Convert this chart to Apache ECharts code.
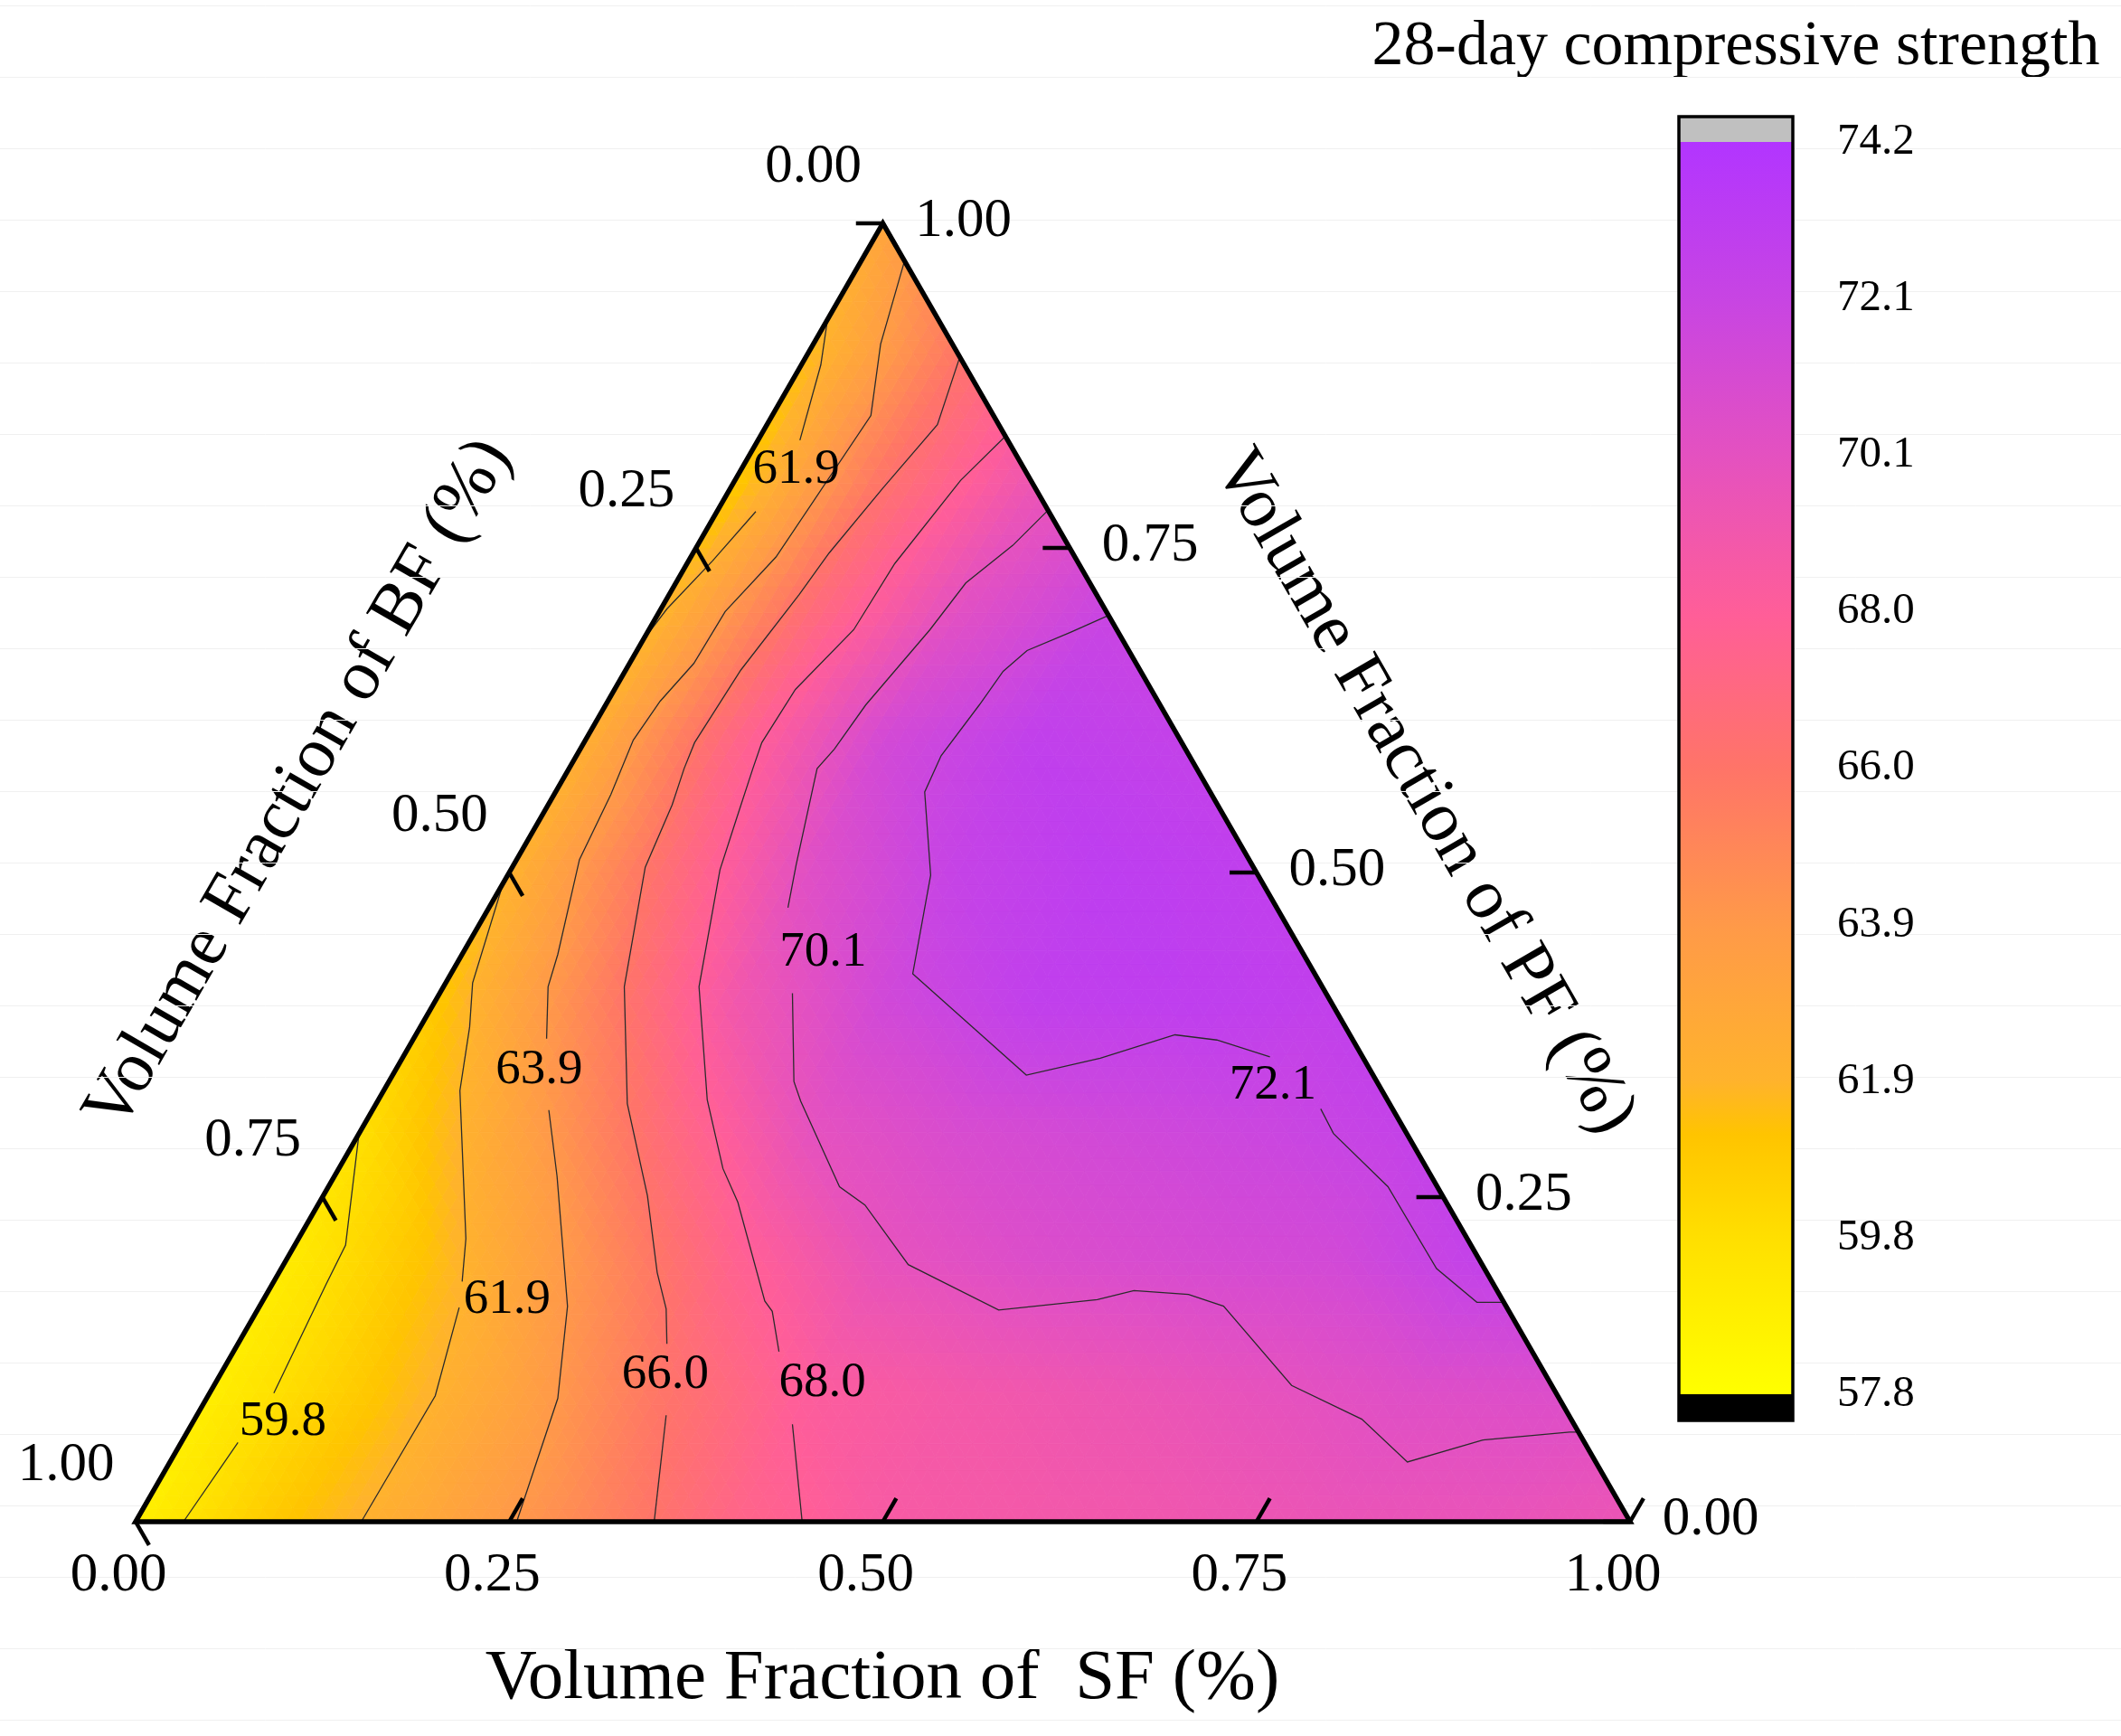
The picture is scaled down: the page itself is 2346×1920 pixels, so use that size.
<!DOCTYPE html>
<html>
<head>
<meta charset="utf-8">
<script src="https://cdn.jsdelivr.net/npm/echarts@6/dist/echarts.min.js"></script>
<style>
  html, body { margin: 0; padding: 0; background: #fff; }
  #main { width: 2346px; height: 1920px; }
</style>
</head>
<body>
<div id="main"></div>
<script>
// strength on a 0.1 ternary grid, one row per PF level, index = SF*10
var pf00 = [58.8, 61.1, 62.9, 64.9, 67.3, 68.6, 68.9, 69.2, 69.6, 69.7, 69.5];
var pf10 = [58.9, 60.9, 63.1, 65.9, 68.2, 68.9, 69.4, 69.9, 70.5, 70.7];
var pf20 = [59.1, 61.4, 64.3, 67.6, 69.9, 70.7, 71.1, 71.4, 72.6];
var pf30 = [59.8, 63.0, 66.6, 70.0, 71.0, 71.5, 71.9, 72.5];
var pf40 = [61.0, 64.9, 69.0, 71.5, 72.8, 73.0, 72.8];
var pf50 = [62.0, 66.3, 70.4, 72.4, 73.1, 72.9];
var pf60 = [62.3, 67.3, 71.4, 72.8, 72.6];
var pf70 = [61.8, 66.7, 70.3, 72.1];
var pf80 = [60.9, 66.1, 69.4];
var pf90 = [61.5, 65.9];
var pf100 = [63.0];
var strengthRows = [pf00, pf10, pf20, pf30, pf40, pf50, pf60, pf70, pf80, pf90, pf100];

// colour scale
var colorLevels = [57.8, 59.8, 61.2, 61.9, 63.9, 66.0, 68.0, 70.1, 72.1, 74.2];
var colorHex = ['#ffff00', '#ffe000', '#ffc400', '#ffb32c', '#ff9a48', '#ff7468', '#ff5e98', '#e451c0', '#c845e2', '#b235ff'];
var cbLabels = ['57.8', '59.8', '61.9', '63.9', '66.0', '68.0', '70.1', '72.1', '74.2'];

var ternTicks = [0, 0.25, 0.5, 0.75, 1];

// contour lines as [SF, PF] points, split where the labels sit
var contour598 = [
  [[0.032, 0], [0.038, 0.061]],
  [[0.043, 0.099], [0.036, 0.183], [0.034, 0.213], [0, 0.299]]
];
var contour619 = [
  [[0.151, 0], [0.152, 0.097], [0.134, 0.165]],
  [[0.126, 0.185], [0.112, 0.218], [0.051, 0.332], [0.033, 0.381], [0.018, 0.415], [0, 0.492]],
  [[0, 0.678], [0.004, 0.703], [0.016, 0.740], [0.026, 0.778]],
  [[0.028, 0.833], [0.013, 0.891], [0, 0.926]]
];
var contour639 = [
  [[0.255, 0], [0.235, 0.095], [0.206, 0.166], [0.149, 0.266], [0.118, 0.317]],
  [[0.089, 0.372], [0.070, 0.412], [0.064, 0.437], [0.042, 0.510], [0.038, 0.560], [0.032, 0.602],
   [0.035, 0.632], [0.043, 0.661], [0.044, 0.701], [0.057, 0.743], [0.066, 0.852], [0.045, 0.907], [0.029, 0.971]]
];
var contour660 = [
  [[0.347, 0], [0.314, 0.082]],
  [[0.287, 0.137], [0.273, 0.164], [0.253, 0.192], [0.217, 0.251], [0.168, 0.322], [0.121, 0.412],
   [0.089, 0.504], [0.083, 0.552], [0.077, 0.580], [0.074, 0.600], [0.077, 0.656], [0.087, 0.714],
   [0.091, 0.746], [0.102, 0.796], [0.114, 0.845], [0.103, 0.897]]
];
var contour680 = [
  [[0.446, 0], [0.402, 0.075]],
  [[0.365, 0.131], [0.345, 0.162], [0.336, 0.170], [0.280, 0.246], [0.257, 0.272], [0.220, 0.325],
   [0.171, 0.412], [0.140, 0.502], [0.131, 0.543], [0.123, 0.580], [0.119, 0.600], [0.121, 0.641],
   [0.137, 0.687], [0.139, 0.738], [0.151, 0.802], [0.164, 0.836]]
];
var contour701 = [
  [[0.931, 0.069], [0.925, 0.069], [0.870, 0.063], [0.828, 0.046], [0.781, 0.079], [0.721, 0.105],
   [0.645, 0.166], [0.617, 0.175], [0.579, 0.178], [0.558, 0.171], [0.496, 0.163], [0.418, 0.198],
   [0.366, 0.244], [0.342, 0.258], [0.283, 0.324], [0.271, 0.339], [0.236, 0.407]],
  [[0.200, 0.473], [0.189, 0.506], [0.166, 0.580], [0.170, 0.595], [0.174, 0.629], [0.188, 0.687],
   [0.194, 0.723], [0.211, 0.752], [0.221, 0.779]]
];
var contour721 = [
  [[0.302, 0.698], [0.283, 0.685], [0.261, 0.671], [0.253, 0.655], [0.250, 0.629], [0.244, 0.590],
   [0.247, 0.562], [0.283, 0.498], [0.309, 0.422], [0.424, 0.344], [0.467, 0.357], [0.508, 0.375],
   [0.538, 0.371], [0.580, 0.358]],
  [[0.634, 0.318], [0.652, 0.299], [0.709, 0.258], [0.773, 0.195], [0.813, 0.169], [0.832, 0.169]]
];
var contourSets = [contour598, contour619, contour639, contour660, contour680, contour701, contour721];

var labelText = ['59.8', '61.9', '61.9', '63.9', '66.0', '68.0', '70.1', '72.1'];
var labelPos = [[0.060, 0.077], [0.163, 0.171], [0.037, 0.810], [0.096, 0.348],
                [0.298, 0.113], [0.406, 0.107], [0.241, 0.438], [0.593, 0.336]];

var SQ = Math.sqrt(3) / 2;
var FONT = '"Liberation Serif", "Times New Roman", serif';

// SF, PF -> cartesian point of the equilateral triangle
function tern(s, p) {
  return [s + p / 2, p * SQ];
}

function hexRgb(h) {
  return [parseInt(h.slice(1, 3), 16), parseInt(h.slice(3, 5), 16), parseInt(h.slice(5, 7), 16)];
}
var colorRgb = colorHex.map(hexRgb);

function colorAt(v) {
  var L = colorLevels;
  if (v <= L[0]) return colorHex[0];
  for (var k = 0; k < L.length - 1; k++) {
    if (v <= L[k + 1]) {
      var t = (v - L[k]) / (L[k + 1] - L[k]);
      var a = colorRgb[k], b = colorRgb[k + 1];
      return 'rgb(' + Math.round(a[0] + (b[0] - a[0]) * t) + ',' +
        Math.round(a[1] + (b[1] - a[1]) * t) + ',' +
        Math.round(a[2] + (b[2] - a[2]) * t) + ')';
    }
  }
  return colorHex[colorHex.length - 1];
}

// grid cells: [i, j, down]
var cells = [];
for (var j = 0; j < 10; j++) {
  for (var i = 0; i <= 9 - j; i++) {
    cells.push([i, j, 0]);
    if (i + j <= 8) cells.push([i, j, 1]);
  }
}

function renderField(params, api) {
  var i = api.value(0), j = api.value(1), down = api.value(2);
  var vs = down ? [[i + 1, j + 1], [i, j + 1], [i + 1, j]] : [[i, j], [i + 1, j], [i, j + 1]];
  var pts = vs.map(function (n) { return api.coord(tern(n[0] / 10, n[1] / 10)); });
  var vals = vs.map(function (n) { return strengthRows[n[1]][n[0]]; });
  var N = 10;
  var kids = [];
  function P(a, b) {
    return [pts[0][0] + (pts[1][0] - pts[0][0]) * a / N + (pts[2][0] - pts[0][0]) * b / N,
            pts[0][1] + (pts[1][1] - pts[0][1]) * a / N + (pts[2][1] - pts[0][1]) * b / N];
  }
  function V(a, b) {
    return vals[0] + (vals[1] - vals[0]) * a / N + (vals[2] - vals[0]) * b / N;
  }
  function tri(p1, p2, p3, c) {
    kids.push({ type: 'polygon', shape: { points: [p1, p2, p3] },
      style: { fill: c, stroke: c, lineWidth: 0.8 } });
  }
  for (var a = 0; a < N; a++) {
    for (var b = 0; a + b < N; b++) {
      tri(P(a, b), P(a + 1, b), P(a, b + 1), colorAt(V(a + 1 / 3, b + 1 / 3)));
      if (a + b <= N - 2) {
        tri(P(a + 1, b), P(a, b + 1), P(a + 1, b + 1), colorAt(V(a + 2 / 3, b + 2 / 3)));
      }
    }
  }
  return { type: 'group', children: kids };
}

function renderFrame(params, api) {
  function P(s, p) { return api.coord(tern(s, p)); }
  var kids = [];
  var t = 0.018;
  kids.push({ type: 'polygon', shape: { points: [P(0, 0), P(1, 0), P(0, 1)] },
    style: { fill: 'none', stroke: '#000', lineWidth: 5.5, lineJoin: 'miter' } });
  function tick(a, b) {
    kids.push({ type: 'line', shape: { x1: a[0], y1: a[1], x2: b[0], y2: b[1] },
      style: { stroke: '#000', lineWidth: 4.5 } });
  }
  function label(pt, dx, dy, txt) {
    kids.push({ type: 'text', x: pt[0] + dx, y: pt[1] + dy,
      style: { text: txt, font: '61px ' + FONT, fill: '#000',
        textAlign: 'center', textVerticalAlign: 'middle', align: 'center', verticalAlign: 'middle' } });
  }
  ternTicks.forEach(function (v) {
    var txt = v.toFixed(2);
    // SF (bottom)
    tick(P(v, 0), P(v, t));
    label(P(v, 0), -19, 60, txt);
    // BF (left)
    tick(P(0, 1 - v), P(t, 1 - v - t));
    label(P(0, 1 - v), -77, -62, txt);
    // PF (right)
    tick(P(1 - v, v), P(1 - v - t, v));
    label(P(1 - v, v), 89, -2, txt);
  });
  return { type: 'group', children: kids };
}

function renderLabel(params, api) {
  var pt = api.coord([api.value(0), api.value(1)]);
  return { type: 'text', x: pt[0], y: pt[1],
    style: { text: labelText[params.dataIndex], font: '55px ' + FONT, fill: '#000',
      textAlign: 'center', textVerticalAlign: 'middle', align: 'center', verticalAlign: 'middle' } };
}

function renderColorbar(params, api) {
  var lo = api.coord([0, 0]), hi = api.coord([1, 8]);
  var topCap = api.coord([0, 8.162])[1], botCap = api.coord([0, -0.168])[1];
  var x = lo[0], w = hi[0] - lo[0];
  var stops = colorLevels.map(function (v, k) {
    return { offset: (v - colorLevels[0]) / (colorLevels[colorLevels.length - 1] - colorLevels[0]), color: colorHex[k] };
  });
  return { type: 'group', children: [
    { type: 'rect', shape: { x: x, y: hi[1], width: w, height: lo[1] - hi[1] },
      style: { fill: new echarts.graphic.LinearGradient(0, 1, 0, 0, stops) } },
    { type: 'rect', shape: { x: x, y: topCap, width: w, height: hi[1] - topCap }, style: { fill: '#c0c0c0' } },
    { type: 'rect', shape: { x: x, y: lo[1], width: w, height: botCap - lo[1] }, style: { fill: '#000' } },
    { type: 'rect', shape: { x: x, y: topCap, width: w, height: botCap - topCap },
      style: { fill: 'none', stroke: '#000', lineWidth: 3.5 } }
  ] };
}

var contourData = [];
contourSets.forEach(function (set) {
  set.forEach(function (seg) {
    contourData.push({ coords: seg.map(function (q) { return tern(q[0], q[1]); }) });
  });
});

var chart = echarts.init(document.getElementById('main'));
var titleStyle = { font: '79px ' + FONT, fill: '#000', textAlign: 'center', textVerticalAlign: 'middle',
  align: 'center', verticalAlign: 'middle' };

var option = {
  backgroundColor: '#fff',
  animation: false,
  grid: [
    { left: 0, right: 0, top: 6, height: 1896 },
    { left: 150, top: 247, width: 1653, height: 1436 },
    { left: 1857, top: 157, width: 126, height: 1385 }
  ],
  xAxis: [
    { gridIndex: 0, type: 'value', min: 0, max: 1, show: false },
    { gridIndex: 1, type: 'value', min: 0, max: 1, show: false },
    { gridIndex: 2, type: 'value', min: 0, max: 1, show: false }
  ],
  yAxis: [
    { gridIndex: 0, type: 'value', min: 0, max: 24, interval: 1,
      axisLine: { show: false }, axisTick: { show: false }, axisLabel: { show: false },
      splitLine: { show: true, lineStyle: { color: '#f0f0f0', width: 1 } } },
    { gridIndex: 1, type: 'value', min: 0, max: SQ, show: false },
    { gridIndex: 2, type: 'value', min: 0, max: 8, interval: 1, position: 'right',
      axisLine: { show: false },
      axisTick: { show: true, length: 30, lineStyle: { color: '#000', width: 3 } },
      axisLabel: { margin: 49, fontSize: 49, fontFamily: FONT, color: '#000',
        formatter: function (v) { return cbLabels[Math.round(v)]; } },
      splitLine: { show: false } }
  ],
  graphic: [
    { type: 'text', x: 976, y: 1857, style: Object.assign({ text: 'Volume Fraction of  SF (%)' }, titleStyle) },
    { type: 'text', x: 331, y: 868, rotation: Math.PI / 3,
      style: Object.assign({ text: 'Volume Fraction of BF (%)' }, titleStyle) },
    { type: 'text', x: 1575, y: 876, rotation: -Math.PI / 3,
      style: Object.assign({ text: 'Volume Fraction of PF (%)' }, titleStyle) },
    { type: 'text', x: 1920, y: 53,
      style: Object.assign({}, titleStyle, { text: '28-day compressive strength', font: '70px ' + FONT }) }
  ],
  series: [
    { type: 'custom', name: 'field', xAxisIndex: 1, yAxisIndex: 1, z: 1, silent: true,
      renderItem: renderField, data: cells },
    { type: 'lines', name: 'contours', coordinateSystem: 'cartesian2d', xAxisIndex: 1, yAxisIndex: 1,
      polyline: true, z: 2, silent: true,
      lineStyle: { color: '#2b2b2b', width: 1.3, opacity: 1 }, data: contourData },
    { type: 'custom', name: 'contour labels', xAxisIndex: 1, yAxisIndex: 1, z: 3, silent: true,
      renderItem: renderLabel,
      data: labelPos.map(function (q) { return tern(q[0], q[1]); }) },
    { type: 'custom', name: 'frame', xAxisIndex: 1, yAxisIndex: 1, z: 4, silent: true,
      renderItem: renderFrame, data: [[0.5, 0.3]] },
    { type: 'custom', name: 'colorbar', xAxisIndex: 2, yAxisIndex: 2, z: 1, silent: true,
      renderItem: renderColorbar, data: [[0.5, 4]] }
  ]
};
chart.setOption(option);
</script>
</body>
</html>
